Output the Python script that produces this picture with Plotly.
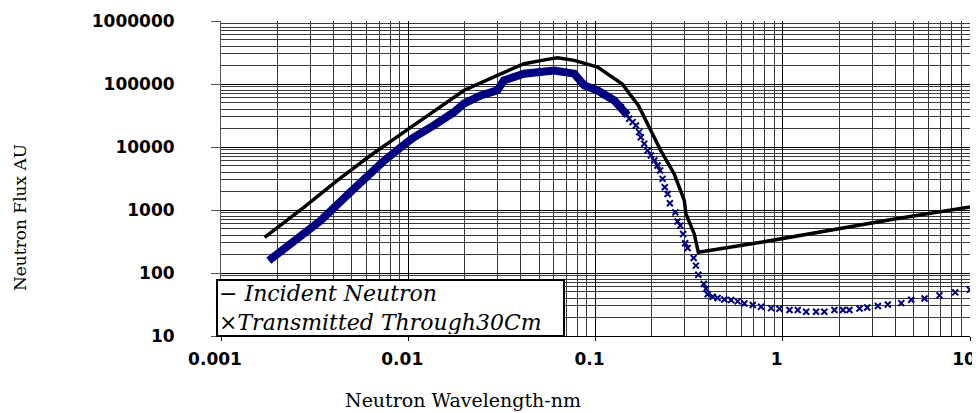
import plotly.graph_objects as go

# ---- data ----
wavelength_incident = [0.00171, 0.00277, 0.00417, 0.00628, 0.00948, 0.0143, 0.0198, 0.0299,
                       0.0415, 0.0553, 0.0627, 0.0769, 0.1026, 0.139, 0.170, 0.223, 0.263,
                       0.298, 0.304, 0.337, 0.354, 0.766, 1.742, 3.954, 10.0]
flux_incident = [368, 1104, 2930, 7330, 17200, 40500, 79000, 137000,
                 210000, 246000, 262000, 237000, 186000, 100000, 45000, 8790, 3750,
                 1420, 867, 417, 213, 307, 470, 721, 1120]

# dense part of the transmitted spectrum (markers overlap into a band)
wavelength_trans_dense = [0.00180, 0.00225, 0.00340, 0.00512, 0.0074, 0.00989, 0.01072, 0.0137,
                          0.01618, 0.01754, 0.0198, 0.0244, 0.0299, 0.0324, 0.0415, 0.0601,
                          0.0769, 0.0871, 0.1026, 0.1259, 0.1483]
flux_trans_dense = [157, 255, 678, 2170, 6000, 11900, 14300, 22000,
                    29800, 35700, 48600, 65900, 79000, 114000, 146000, 164000,
                    146000, 95000, 79000, 54800, 31700]

# separated markers of the transmitted spectrum
wavelength_trans = [0.1365, 0.1452, 0.1514, 0.1578, 0.1644, 0.1710, 0.1746, 0.1820, 0.1897,
                    0.1977, 0.2061, 0.2143, 0.2213, 0.2280, 0.2344, 0.2427, 0.2495, 0.2667,
                    0.2742, 0.2838, 0.2938, 0.3013, 0.3105, 0.3342, 0.3436, 0.3540, 0.3784,
                    0.3890, 0.3972, 0.4227, 0.4487, 0.4875, 0.5297, 0.5741, 0.6237, 0.6918,
                    0.7656, 0.8670, 0.9594, 1.0864, 1.2023, 1.3335, 1.5066, 1.6672, 1.8880,
                    2.0941, 2.2699, 2.5704, 2.8249, 3.2211, 3.6392, 4.2954, 4.8529, 5.7148,
                    6.8707, 8.3368, 10.0]
flux_trans = [42950, 33700, 28050, 24800, 22000, 17200, 14300, 11250, 8790,
              7330, 6100, 5080, 4230, 3120, 2300, 1800, 1280, 918,
              655, 565, 417, 296, 249, 173, 131, 94, 67,
              56, 46, 42, 40, 38, 37.2, 35.4, 32.9, 31.0,
              29.1, 27.7, 27.0, 25.8, 25.8, 24.3, 24.3, 24.3, 25.8,
              25.8, 25.8, 27.4, 28.4, 29.9, 31.7, 33.3, 37.6, 39.4,
              44.1, 49.2, 54.2]

x_tick_vals = [0.001, 0.01, 0.1, 1, 10]
x_tick_text = ["0.001", "0.01", "0.1", "1", "10"]
y_tick_vals = [10, 100, 1000, 10000, 100000, 1000000]
y_tick_text = ["10", "100", "1000", "10000", "100000", "1000000"]

legend_lines = ["\u2212 <i>Incident Neutron</i>", "\u00d7<i>Transmitted Through30Cm</i>"]
x_title = "Neutron Wavelength-nm"
y_title = "Neutron Flux AU"

minor_x = [m * 10.0 ** k for k in range(-3, 1) for m in range(2, 10)]
minor_y = [m * 10.0 ** k for k in range(1, 6) for m in range(2, 10)]

NAVY = "#000080"

fig = go.Figure()
fig.add_trace(go.Scatter(x=wavelength_incident, y=flux_incident, mode="lines",
                         line=dict(color="black", width=3.5), name="Incident Neutron"))
fig.add_trace(go.Scatter(x=wavelength_trans_dense, y=flux_trans_dense, mode="lines",
                         line=dict(color=NAVY, width=8), name="Transmitted Through 30 Cm"))
fig.add_trace(go.Scatter(x=wavelength_trans, y=flux_trans, mode="markers",
                         marker=dict(symbol="x-thin", size=6, color=NAVY,
                                     line=dict(width=2, color=NAVY)),
                         name="Transmitted Through 30 Cm"))

tick_font = dict(family="DejaVu Sans", size=17, color="black", weight="bold")

fig.update_xaxes(type="log", range=[-3, 1], tickmode="array", tickvals=x_tick_vals,
                 ticktext=x_tick_text, showgrid=True, gridcolor="black", gridwidth=1,
                 minor=dict(tickmode="array", tickvals=minor_x, showgrid=True,
                            gridcolor="#3a3a3a", gridwidth=1, ticks=""),
                 showline=True, linecolor="black", linewidth=1, ticks="outside",
                 ticklen=4, tickcolor="black", tickfont=tick_font, ticklabelstandoff=4,
                 ticklabelshift=-6, ticklabeloverflow="allow", automargin=False,
                 zeroline=False)
fig.update_yaxes(type="log", range=[1, 6], tickmode="array", tickvals=y_tick_vals,
                 ticktext=y_tick_text, showgrid=True, gridcolor="black", gridwidth=1,
                 minor=dict(tickmode="array", tickvals=minor_y, showgrid=True,
                            gridcolor="#3a3a3a", gridwidth=1, ticks=""),
                 showline=True, linecolor="#555555", linewidth=1, ticks="outside",
                 ticklen=9, tickcolor="#555555", tickfont=tick_font, ticklabelstandoff=33,
                 automargin=False, zeroline=False)

# page body has an 8px margin, so the figure is sized/placed accordingly
fig.update_layout(width=972, height=405, margin=dict(l=213, r=10, t=13, b=77),
                  paper_bgcolor="white", plot_bgcolor="white", showlegend=False,
                  annotations=[
                      dict(xref="paper", yref="paper", x=-0.0067, y=0.1815,
                           xanchor="left", yanchor="top", showarrow=False,
                           text="<br>".join(legend_lines), align="left",
                           width=343, height=52, borderpad=1, borderwidth=2,
                           bordercolor="black", bgcolor="white",
                           font=dict(family="DejaVu Serif", size=22, color="black")),
                      dict(xref="paper", yref="paper", x=0.323, y=-0.203,
                           xanchor="center", yanchor="middle", showarrow=False,
                           text=x_title,
                           font=dict(family="DejaVu Serif", size=19, color="black")),
                      dict(xref="paper", yref="paper", x=-0.269, y=0.376,
                           xanchor="center", yanchor="middle", showarrow=False,
                           text=y_title, textangle=-90,
                           font=dict(family="DejaVu Serif", size=17, color="black")),
                  ])

fig.write_html("out.html")
